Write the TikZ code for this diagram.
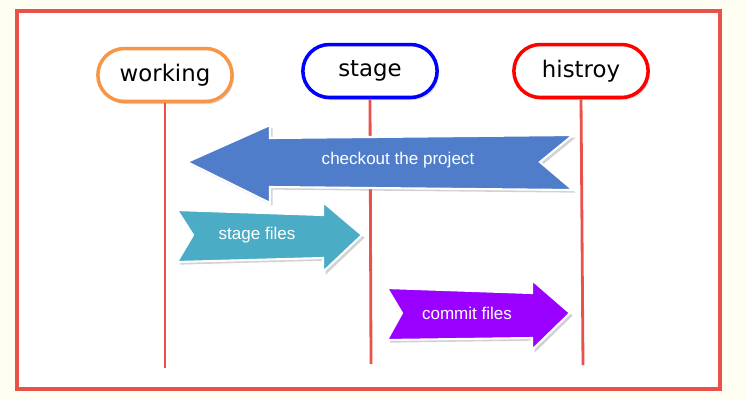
\documentclass[tikz,border=0pt]{standalone}
\usepackage{fontspec}
\setmainfont{Liberation Sans}
\newfontfamily\lanefont{DejaVu Sans}
\usetikzlibrary{shapes.misc,shadows}

\definecolor{paper}{HTML}{FFFEF2}
\definecolor{framered}{HTML}{E8524A}
\definecolor{workorange}{HTML}{F79646}
\definecolor{checkblue}{HTML}{4F7DC9}
\definecolor{stagecyan}{HTML}{4BACC6}
\definecolor{commitviolet}{HTML}{9900FF}

\begin{document}
\begin{tikzpicture}[x=0.02cm, y=-0.02cm,
        lane/.style={draw, line width=2pt, rounded rectangle, fill=white,
            minimum width=2.92cm, minimum height=1.06cm,
            font=\lanefont\fontsize{13}{15}\selectfont,
            drop shadow={opacity=0.25, shadow xshift=1pt, shadow yshift=-1.5pt}},
        bigarrow/.style={draw=white, line width=1.2pt, line join=miter,
            drop shadow={opacity=0.35, shadow xshift=1.5pt, shadow yshift=-1.5pt}},
        lbl/.style={text=white, font=\fontsize{9.7}{11}\selectfont}]

        % page and frame
        \fill[paper] (0,0) rectangle (746,400);
        \useasboundingbox (0,0) rectangle (746,400);
        \draw[framered, line width=2pt, fill=white] (17,11) rectangle (720,389);

        % lanes
        \node[lane, draw=workorange] (working) at (165,75) {working};
        \node[lane, draw=blue] (stage) at (370,71) {stage};
        \node[lane, draw=red] (histroy) at (581,71) {histroy};

        \coordinate (working end) at (165,368);
        \coordinate (stage end) at (371,364);
        \coordinate (histroy end) at (583,365);

        \draw[framered, line width=1.6pt] (working.south) -- (working end);
        \draw[framered, line width=1.6pt] (stage.south) -- (stage end);
        \draw[framered, line width=1.6pt] (histroy.south) -- (histroy end);

        % arrows
        \fill[checkblue, bigarrow] (187,162) -- (270,125) -- (270,138) -- (573,135)
            -- (540,162) -- (573,190) -- (270,187) -- (270,203) -- cycle;
        \node[lbl] (checkout) at (398,160) {checkout the project};

        \fill[stagecyan, bigarrow] (177,210) -- (323,215) -- (323,202) -- (362,235)
            -- (323,272) -- (323,258) -- (177,262) -- (193,235) -- cycle;
        \node[lbl] (stagefiles) at (257,235) {stage files};

        \fill[commitviolet, bigarrow] (387,288) -- (532,293) -- (532,280) -- (570,313)
            -- (532,350) -- (532,338) -- (387,340) -- (402,313) -- cycle;
        \node[lbl] (commit) at (467,313) {commit files};
\end{tikzpicture}
\end{document}
